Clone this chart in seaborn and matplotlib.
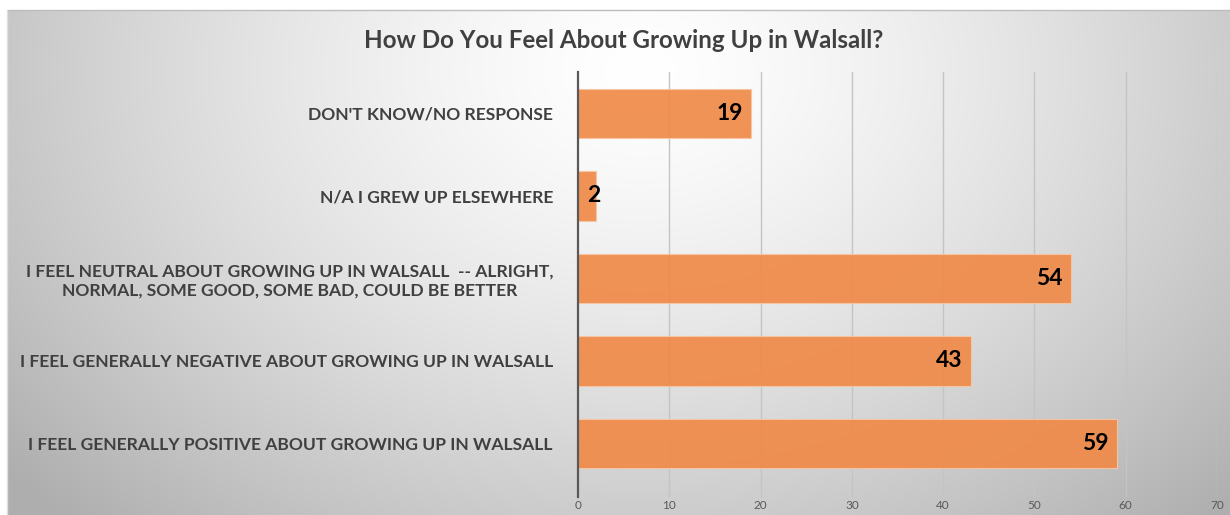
import numpy as np
import pandas as pd
import matplotlib
matplotlib.use("Agg")
import matplotlib.pyplot as plt
import seaborn as sns

categories = [
    "DON'T KNOW/NO RESPONSE",
    "N/A I GREW UP ELSEWHERE",
    "I FEEL NEUTRAL ABOUT GROWING UP IN WALSALL  -- ALRIGHT,\nNORMAL, SOME GOOD, SOME BAD, COULD BE BETTER",
    "I FEEL GENERALLY NEGATIVE ABOUT GROWING UP IN WALSALL",
    "I FEEL GENERALLY POSITIVE ABOUT GROWING UP IN WALSALL",
]
values = [19, 2, 54, 43, 59]
x_ticks = [0, 10, 20, 30, 40, 50, 60, 70]
title = "How Do You Feel About Growing Up in Walsall?"

df = pd.DataFrame({"category": categories, "value": values})

sns.set_theme(style="white")
plt.rcParams["font.family"] = ["Lato", "DejaVu Sans"]

W, H = 12.3, 5.15
fig = plt.figure(figsize=(W, H), dpi=100)

# background panel with radial gradient
bg = fig.add_axes([0, 0, 1, 1], zorder=-10)
bg.set_xlim(0, 1230)
bg.set_ylim(515, 0)
bg.axis("off")
yy, xx = np.mgrid[0:515, 0:1230]
cx, cy = 640, 70
d = np.sqrt(((xx - cx) / 720.0) ** 2 + ((yy - cy) / 540.0) ** 2)
lum = 1.0 - 0.26 * np.clip(d, 0, 1.15) ** 1.4
img = np.dstack([lum, lum, lum])
img[:10, :, :] = 1.0
img[:, :7, :] = 1.0
bg.imshow(img, extent=(0, 1230, 515, 0), aspect="auto", interpolation="bilinear")
bg.plot([7, 1230], [10, 10], color="#bdbdbd", lw=1.0)
bg.plot([7, 7], [10, 515], color="#e0e0e0", lw=1.0)

ax = fig.add_axes([578 / 1230, 1 - 497 / 515, (1217 - 578) / 1230, (497 - 72) / 515])
ax.set_facecolor("none")

ax.set_axisbelow(True)
for t in x_ticks[1:]:
    ax.axvline(t, color="#c4c4c4", lw=1.0, zorder=0)

sns.barplot(data=df, x="value", y="category", orient="h", color="#F08A48",
            width=0.6, ax=ax, saturation=1, alpha=0.92,
            edgecolor="#f7c7a3", linewidth=0.8, zorder=2)

texts = ax.bar_label(ax.containers[0], labels=[str(v) for v in values],
                     padding=-6, fontsize=16.5, fontweight="bold", color="black")
for t, v in zip(texts, values):
    if v < 5:
        t.set_ha("center")
        t.xyann = (-2, 0)
    else:
        t.set_ha("right")

ax.set_xlim(0, 70)
ax.set_ylim(4.65, -0.5)
ax.set_xticks(x_ticks)
ax.set_xticklabels([str(t) for t in x_ticks], fontsize=8.5, color="#595959")
ax.tick_params(axis="x", length=0, pad=2)
ax.tick_params(axis="y", length=0, pad=18)
for lbl in ax.get_yticklabels():
    lbl.set_fontsize(12.6)
    lbl.set_fontweight("bold")
    lbl.set_color("#404040")
    lbl.set_multialignment("center")
ax.set_xlabel("")
ax.set_ylabel("")
for s in ["top", "right", "bottom"]:
    ax.spines[s].set_visible(False)
ax.spines["left"].set_color("#595959")
ax.spines["left"].set_linewidth(1.6)
ax.spines["left"].set_zorder(3)

fig.text(624 / 1230, 1 - 40 / 515, title, ha="center", va="center",
         fontsize=17.4, fontweight="bold", color="#404040")

fig.savefig("out.png", dpi=100)
